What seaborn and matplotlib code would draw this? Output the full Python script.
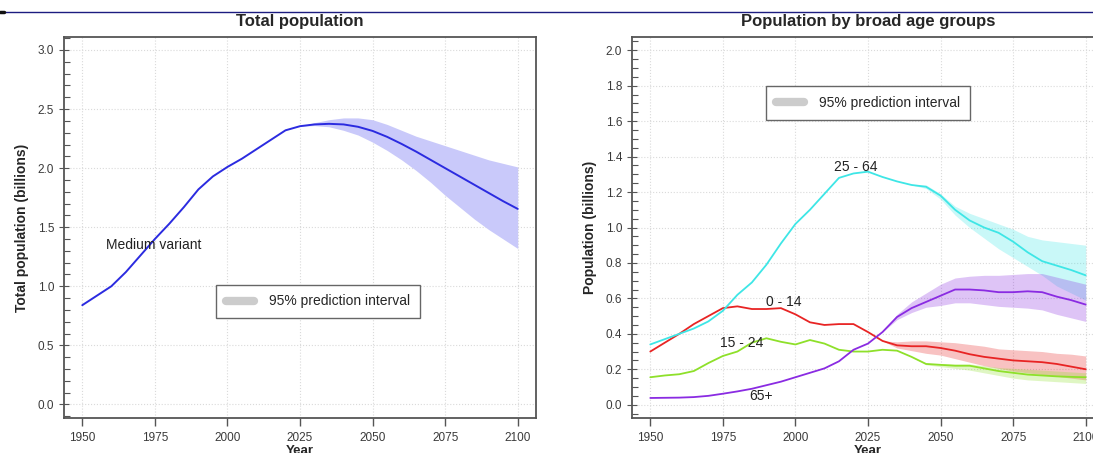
import numpy as np
import pandas as pd
import seaborn as sns
import matplotlib.pyplot as plt
from matplotlib.ticker import MultipleLocator
from matplotlib.lines import Line2D

# ---- data (billions) ----
years = list(range(1950, 2101, 5))
total_pop = [0.84, 0.92, 1.00, 1.12, 1.26, 1.40, 1.53, 1.67, 1.82, 1.93, 2.01,
             2.08, 2.16, 2.24, 2.32, 2.355, 2.37, 2.375, 2.37, 2.35, 2.315,
             2.265, 2.205, 2.14, 2.07, 2.00, 1.93, 1.86, 1.79, 1.72, 1.655]

proj_years = list(range(2025, 2101, 5))
total_lo = [2.355, 2.36, 2.35, 2.32, 2.28, 2.22, 2.15, 2.07, 1.98, 1.88, 1.77, 1.67, 1.57, 1.48, 1.40, 1.32]
total_hi = [2.355, 2.385, 2.41, 2.425, 2.425, 2.41, 2.37, 2.32, 2.27, 2.23, 2.19, 2.15, 2.11, 2.07, 2.04, 2.01]

age_groups = ["0 - 14", "15 - 24", "25 - 64", "65+"]
pop_0_14 = [0.30, 0.35, 0.40, 0.455, 0.50, 0.545, 0.555, 0.54, 0.54, 0.545, 0.51,
            0.465, 0.45, 0.455, 0.455, 0.41, 0.36, 0.335, 0.33, 0.33, 0.32,
            0.305, 0.285, 0.27, 0.26, 0.25, 0.245, 0.24, 0.23, 0.215, 0.20]
pop_15_24 = [0.155, 0.165, 0.172, 0.19, 0.235, 0.275, 0.30, 0.35, 0.375, 0.355, 0.34,
             0.365, 0.345, 0.31, 0.30, 0.30, 0.31, 0.305, 0.27, 0.23, 0.225,
             0.22, 0.22, 0.205, 0.19, 0.18, 0.17, 0.165, 0.16, 0.157, 0.155]
pop_25_64 = [0.34, 0.37, 0.40, 0.43, 0.47, 0.53, 0.62, 0.69, 0.79, 0.91, 1.02,
             1.10, 1.19, 1.28, 1.305, 1.315, 1.285, 1.26, 1.24, 1.23, 1.18,
             1.10, 1.04, 1.00, 0.97, 0.92, 0.86, 0.81, 0.785, 0.76, 0.73]
pop_65 = [0.038, 0.039, 0.04, 0.043, 0.05, 0.062, 0.075, 0.09, 0.11, 0.13, 0.155,
          0.18, 0.205, 0.245, 0.31, 0.345, 0.41, 0.495, 0.545, 0.58, 0.615,
          0.65, 0.65, 0.645, 0.635, 0.635, 0.64, 0.635, 0.61, 0.59, 0.565]

lo_0_14 = [0.41, 0.36, 0.32, 0.305, 0.29, 0.28, 0.26, 0.24, 0.22, 0.205, 0.19, 0.18, 0.17, 0.16, 0.15, 0.14]
hi_0_14 = [0.41, 0.36, 0.355, 0.36, 0.36, 0.355, 0.35, 0.34, 0.33, 0.315, 0.31, 0.305, 0.30, 0.29, 0.285, 0.275]
lo_15_24 = [0.30, 0.31, 0.305, 0.27, 0.225, 0.215, 0.205, 0.195, 0.18, 0.165, 0.15, 0.14, 0.135, 0.13, 0.125, 0.12]
hi_15_24 = [0.30, 0.31, 0.305, 0.27, 0.235, 0.232, 0.23, 0.23, 0.22, 0.21, 0.205, 0.20, 0.195, 0.19, 0.185, 0.18]
lo_25_64 = [1.315, 1.285, 1.26, 1.24, 1.22, 1.16, 1.07, 1.00, 0.94, 0.88, 0.83, 0.78, 0.73, 0.67, 0.63, 0.59]
hi_25_64 = [1.315, 1.285, 1.26, 1.24, 1.24, 1.19, 1.12, 1.08, 1.05, 1.02, 0.99, 0.95, 0.93, 0.92, 0.91, 0.90]
lo_65 = [0.345, 0.41, 0.48, 0.52, 0.55, 0.56, 0.575, 0.575, 0.565, 0.555, 0.55, 0.545, 0.535, 0.51, 0.49, 0.47]
hi_65 = [0.345, 0.41, 0.51, 0.58, 0.63, 0.68, 0.715, 0.725, 0.73, 0.73, 0.735, 0.74, 0.74, 0.72, 0.70, 0.68]

# label anchors (year, value)
label_pos = {"0 - 14": (1996, 0.58), "15 - 24": (1981.5, 0.35),
             "25 - 64": (2020.7, 1.34), "65+": (1988, 0.05)}

colors = {"0 - 14": "#e82424", "15 - 24": "#8ee02a", "25 - 64": "#3ee6e6", "65+": "#8a2be2"}
total_color = "#2b2be0"

sns.set_theme(style="white")
plt.rcParams["font.family"] = ["Liberation Sans", "DejaVu Sans"]

fig = plt.figure(figsize=(10.93, 4.53), dpi=100)
ax1 = fig.add_axes([64 / 1093, 35 / 453, 472 / 1093, 381 / 453])
ax2 = fig.add_axes([632 / 1093, 35 / 453, 472 / 1093, 381 / 453])

# header rule
fig.add_artist(Line2D([0, 1], [1 - 12 / 453] * 2, color="#1c1c80", lw=1.0,
                      transform=fig.transFigure))
fig.add_artist(Line2D([0, 4 / 1093], [1 - 12 / 453] * 2, color="#111111", lw=2.5,
                      transform=fig.transFigure))

# ---- left: total population ----
ax1.fill_between(proj_years, total_lo, total_hi, color="#c9c9fa", lw=0)
sns.lineplot(x=years, y=total_pop, ax=ax1, color=total_color, lw=1.4)
ax1.text(1958, 1.35, "Medium variant", fontsize=10, va="center", ha="left", color="#222222")

# ---- right: broad age groups ----
bands = {"0 - 14": (lo_0_14, hi_0_14), "15 - 24": (lo_15_24, hi_15_24),
         "25 - 64": (lo_25_64, hi_25_64), "65+": (lo_65, hi_65)}
for g in ["25 - 64", "65+", "0 - 14", "15 - 24"]:
    lo, hi = bands[g]
    ax2.fill_between(proj_years, lo, hi, color=colors[g], alpha=0.28, lw=0)

df_age = pd.DataFrame({
    "Year": years * 4,
    "Population": pop_0_14 + pop_15_24 + pop_25_64 + pop_65,
    "Group": sum([[g] * len(years) for g in age_groups], []),
})
sns.lineplot(data=df_age, x="Year", y="Population", hue="Group",
             palette=colors, ax=ax2, lw=1.3, legend=False)
for g, (x, y) in label_pos.items():
    ax2.text(x, y, g, fontsize=10, ha="center", va="center", color="#222222")

# ---- styling ----
for ax, title, ylabel, ylim, major, minor in [
    (ax1, "Total population", "Total population (billions)", (-0.115, 3.11), 0.5, 0.1),
    (ax2, "Population by broad age groups", "Population (billions)", (-0.075, 2.075), 0.2, 0.05),
]:
    ax.set_xlim(1943.7, 2106.3)
    ax.set_ylim(*ylim)
    ax.set_xticks([1950, 1975, 2000, 2025, 2050, 2075, 2100])
    ax.yaxis.set_major_locator(MultipleLocator(major))
    ax.yaxis.set_minor_locator(MultipleLocator(minor))
    ax.yaxis.set_major_formatter(plt.FormatStrFormatter("%.1f"))
    ax.grid(True, which="major", color="#dadada", linestyle=":", lw=0.8)
    ax.tick_params(axis="x", which="major", direction="out", length=6, width=1,
                   color="#555555", labelsize=8.5, labelcolor="#3a3a3a", pad=4, bottom=True)
    ax.tick_params(axis="y", which="major", direction="inout", length=7, width=0.8,
                   color="#555555", labelsize=8.5, labelcolor="#3a3a3a", left=True)
    ax.tick_params(axis="y", which="minor", direction="in", length=4, width=0.8,
                   color="#555555", left=True)
    for s in ax.spines.values():
        s.set_color("#555555")
        s.set_linewidth(1.3)
    ax.set_title(title, fontsize=12, fontweight="bold", pad=8)
    ax.set_ylabel(ylabel, fontsize=10, fontweight="bold", labelpad=6)
    ax.set_xlabel("Year", fontsize=9.5, fontweight="bold", labelpad=1)
    handle = Line2D([], [], color="#cccccc", lw=6, solid_capstyle="round")
    leg = ax.legend([handle], ["95% prediction interval"], fontsize=10,
                    loc="center", fancybox=False, framealpha=1, edgecolor="#666666",
                    handlelength=2.0, borderpad=0.7, handletextpad=1.1)
    leg.get_frame().set_linewidth(1.0)

ax1.get_legend().set_bbox_to_anchor((0.538, 0.306))
ax2.get_legend().set_bbox_to_anchor((0.50, 0.827))

fig.savefig("out.png", dpi=100)
